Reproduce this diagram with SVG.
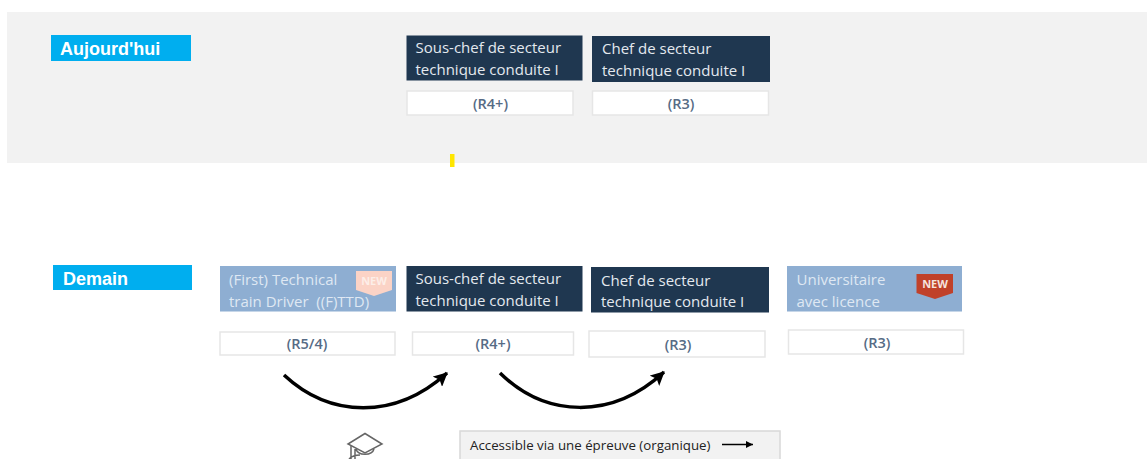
<svg xmlns="http://www.w3.org/2000/svg" width="1147" height="459" viewBox="0 0 1147 459">
<style>
text{font-family:"Open Sans","Noto Sans","Liberation Sans",sans-serif}
.dark{fill:#1f3750}
.light{fill:#8eaed2}
.t{font-size:15px;fill:#e4e9ef}
.lt{font-size:15px;fill:#dfe8f3}
.box{fill:#fff;stroke:#e6e6e6;stroke-width:1.500}
.r{font-size:14.500px;fill:#566b85;text-anchor:middle;font-weight:600}
.tag{fill:#00aeef}
.h{font-family:"Liberation Sans",Arial,sans-serif;font-size:18px;font-weight:700;fill:#fff}
.arc{fill:none;stroke:#000;stroke-width:3.500;marker-end:url(#ah)}
</style>
<defs>
<marker id="ah" markerUnits="userSpaceOnUse" markerWidth="16" markerHeight="14" refX="13" refY="7" orient="auto"><path d="M0 0L14 7L0 14L3 7Z" fill="#000"/></marker>
<marker id="ah2" markerUnits="userSpaceOnUse" markerWidth="8" markerHeight="8" refX="7" refY="4" orient="auto"><path d="M0 0.500L7 4L0 7.500Z" fill="#000"/></marker>
</defs>
<rect id="band" x="7" y="12" width="1140" height="151" fill="#f2f2f2"/>
<rect id="mark" x="450" y="154" width="4.500" height="13" fill="#ffe600"/>
<g id="today-label"><rect class="tag" x="51" y="35" width="140" height="26"/><text class="h" x="60" y="55">Aujourd'hui</text></g>
<g id="today-souschef"><rect class="dark" x="406.500" y="35.500" width="176" height="45"/><text class="t" x="415.500" y="53">Sous-chef de secteur</text><text class="t" x="415.500" y="74.500">technique conduite I</text></g>
<g id="today-souschef-grade"><rect class="box" x="407" y="91" width="166" height="24"/><text class="r" x="490.500" y="109">(R4+)</text></g>
<g id="today-chef"><rect class="dark" x="592" y="36" width="178" height="46"/><text class="t" x="602" y="54">Chef de secteur</text><text class="t" x="602" y="76">technique conduite I</text></g>
<g id="today-chef-grade"><rect class="box" x="592.500" y="91" width="176" height="24"/><text class="r" x="681" y="109">(R3)</text></g>
<g id="tomorrow-label"><rect class="tag" x="53" y="265" width="139" height="25"/><text class="h" x="63" y="284.500">Demain</text></g>
<g id="tomorrow-ftd"><rect class="light" x="220" y="266" width="176" height="45.500"/><text class="lt" x="229" y="284.500">(First) Technical</text><path d="M356 271H392V290L374 296L356 290Z" fill="#fbd3c6"/><text x="374" y="285" font-size="11" font-weight="700" fill="#fdeee8" text-anchor="middle">NEW</text><text class="lt" x="229" y="306.500" xml:space="preserve">train Driver  ((F)TTD)</text></g>
<g id="tomorrow-ftd-grade"><rect class="box" x="220" y="332" width="175" height="23"/><text class="r" x="307" y="349">(R5/4)</text></g>
<g id="tomorrow-souschef"><rect class="dark" x="406.500" y="266" width="176" height="45.500"/><text class="t" x="415.500" y="284">Sous-chef de secteur</text><text class="t" x="415.500" y="306">technique conduite I</text></g>
<g id="tomorrow-souschef-grade"><rect class="box" x="412.500" y="332" width="161" height="23"/><text class="r" x="493" y="349">(R4+)</text></g>
<g id="tomorrow-chef"><rect class="dark" x="591" y="267" width="178" height="45.500"/><text class="t" x="601" y="286">Chef de secteur</text><text class="t" x="601" y="307">technique conduite I</text></g>
<g id="tomorrow-chef-grade"><rect class="box" x="589" y="331" width="176" height="26"/><text class="r" x="678" y="350">(R3)</text></g>
<g id="tomorrow-univ"><rect class="light" x="787" y="266" width="175" height="45.500"/><text class="lt" x="796.500" y="284.500">Universitaire</text><text class="lt" x="796.500" y="306.500">avec licence</text><path d="M916.500 274H953V293L935 299L916.500 293Z" fill="#c0412a"/><text x="935" y="288" font-size="11" font-weight="700" fill="#f6e3de" text-anchor="middle">NEW</text></g>
<g id="tomorrow-univ-grade"><rect class="box" x="788.500" y="330" width="175" height="24"/><text class="r" x="877" y="348">(R3)</text></g>
<g id="connectors"><path class="arc" d="M284 375C330 418 395 420 447 373"/><path class="arc" d="M500 373C546 418 612 420 664 372"/></g>
<g id="cap" fill="none" stroke="#666" stroke-width="1.500"><path d="M365 433.500L382 444L365 453L348 444Z" fill="#fff"/><path d="M356 449C358 456 372 456 374 449M351 446V459M355 449V459M360 455C354 455 350 458 349 459"/></g>
<g id="legend"><rect x="460" y="431" width="320" height="30" fill="#f2f2f2" stroke="#d8d8d8" stroke-width="1.500"/><text x="470" y="450" font-size="13.300" fill="#222">Accessible via une épreuve (organique)</text><path d="M722 444.500H753" stroke="#000" stroke-width="1.500" marker-end="url(#ah2)"/></g>
</svg>
